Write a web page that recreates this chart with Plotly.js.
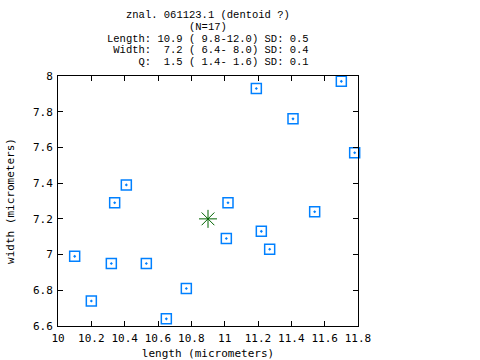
<!DOCTYPE html>
<html>
<head>
<meta charset="utf-8">
<script src="https://cdn.plot.ly/plotly-3.0.1.min.js"></script>
<style>html,body{margin:0;padding:0;background:#fff;}#chart{width:480px;height:360px;}</style>
</head>
<body>
<div id="chart"></div>
<script>
var lengths = [10.41, 10.34, 11.02, 11.19, 11.70, 11.41, 11.78, 11.01, 10.10, 10.32, 10.53, 10.20, 10.77, 10.65, 11.54, 11.22, 11.27];
var widths  = [7.39, 7.29, 7.29, 7.93, 7.97, 7.76, 7.57, 7.09, 6.99, 6.95, 6.95, 6.74, 6.81, 6.64, 7.24, 7.13, 7.03];
var meanLength = [10.9];
var meanWidth = [7.2];
var xTicks = [10, 10.2, 10.4, 10.6, 10.8, 11, 11.2, 11.4, 11.6, 11.8];
var xTickText = ["10", "10.2", "10.4", "10.6", "10.8", "11", "11.2", "11.4", "11.6", "11.8"];
var yTicks = [6.6, 6.8, 7, 7.2, 7.4, 7.6, 7.8, 8];
var yTickText = ["6.6", "6.8", "7", "7.2", "7.4", "7.6", "7.8", "8"];
var titleLines = [
  "znal. 061123.1 (dentoid ?)",
  "(N=17)",
  "Length: 10.9 ( 9.8-12.0) SD: 0.5",
  " Width:  7.2 ( 6.4- 8.0) SD: 0.4",
  "     Q:  1.5 ( 1.4- 1.6) SD: 0.1"
];

var font = "DejaVu Sans Mono, monospace";
var titleFont = "Liberation Mono, DejaVu Sans Mono, monospace";
var W = 480, H = 360, M = {l: 58, r: 122, t: 76, b: 34};
var plotH = H - M.t - M.b;
var lineCenters = [14.5, 26.5, 38.5, 50.5, 62.5];

var annotations = titleLines.map(function(s, i){
  return {
    text: s.replace(/ /g, "\u00A0"),
    xref: "paper", yref: "paper", x: 0.5, xanchor: "center",
    y: (H - M.b - lineCenters[i]) / plotH, yanchor: "middle",
    borderpad: 0, showarrow: false,
    font: {family: titleFont, size: 10.5, color: "#000"}
  };
});

var traces = [
  {
    x: lengths, y: widths, type: "scatter", mode: "markers", cliponaxis: false,
    marker: {symbol: "square-open-dot", size: 10, color: "rgb(0,128,255)", line: {width: 1.5, color: "rgb(0,128,255)"}},
    hoverinfo: "x+y"
  },
  {
    x: meanLength, y: meanWidth, type: "scatter", mode: "markers", cliponaxis: false,
    marker: {symbol: "asterisk-open", size: 15, color: "rgb(0,100,0)", line: {width: 1, color: "rgb(0,100,0)"}}
  }
];

var axisCommon = {
  showline: true, linecolor: "#000", linewidth: 1, mirror: "ticks",
  ticks: "inside", ticklen: 5, tickcolor: "#000", tickwidth: 1,
  showgrid: false, zeroline: false, tickmode: "array",
  ticklabelstandoff: 2,
  tickfont: {family: font, size: 11, color: "#000"}
};

var layout = {
  width: W, height: H,
  margin: M,
  paper_bgcolor: "#fff", plot_bgcolor: "#fff",
  showlegend: false,
  annotations: annotations,
  xaxis: Object.assign({}, axisCommon, {
    range: [10, 11.8], tickvals: xTicks, ticktext: xTickText,
    title: {text: "length (micrometers)", font: {family: font, size: 11, color: "#000"}, standoff: 6}
  }),
  yaxis: Object.assign({}, axisCommon, {
    range: [6.6, 8], tickvals: yTicks, ticktext: yTickText,
    title: {text: "width (micrometers)", font: {family: font, size: 11, color: "#000"}, standoff: 16}
  })
};

Plotly.newPlot("chart", traces, layout, {displayModeBar: false, staticPlot: true});
</script>
</body>
</html>
